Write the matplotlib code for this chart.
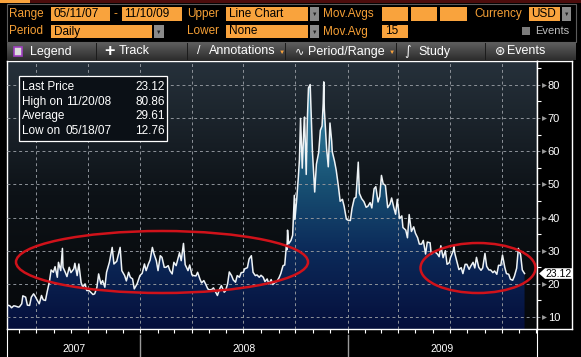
import numpy as np
import pandas as pd
import matplotlib
matplotlib.use('Agg')
import matplotlib.pyplot as plt
import matplotlib.dates as mdates
from matplotlib.patches import Rectangle, Ellipse, Polygon
from matplotlib.colors import LinearSegmentedColormap

# VIX closes, roughly two samples a week
dates = [
    '2007-05-11', '2007-05-15', '2007-05-18', '2007-05-22', '2007-05-25', '2007-05-30',
    '2007-06-01', '2007-06-05', '2007-06-07', '2007-06-12', '2007-06-15', '2007-06-19',
    '2007-06-22', '2007-06-26', '2007-06-29', '2007-07-03', '2007-07-06', '2007-07-10',
    '2007-07-13', '2007-07-17', '2007-07-20', '2007-07-24', '2007-07-27', '2007-07-31',
    '2007-08-03', '2007-08-07', '2007-08-09', '2007-08-13', '2007-08-16', '2007-08-17',
    '2007-08-21', '2007-08-24', '2007-08-28', '2007-08-31', '2007-09-05', '2007-09-07',
    '2007-09-11', '2007-09-14', '2007-09-18', '2007-09-21', '2007-09-25', '2007-09-28',
    '2007-10-02', '2007-10-05', '2007-10-09', '2007-10-12', '2007-10-16', '2007-10-19',
    '2007-10-23', '2007-10-26', '2007-10-30', '2007-11-02', '2007-11-07', '2007-11-12',
    '2007-11-15', '2007-11-20', '2007-11-26', '2007-11-29', '2007-12-04', '2007-12-07',
    '2007-12-11', '2007-12-14', '2007-12-18', '2007-12-21', '2007-12-26', '2007-12-31',
    '2008-01-04', '2008-01-08', '2008-01-11', '2008-01-15', '2008-01-18', '2008-01-22',
    '2008-01-25', '2008-01-29', '2008-02-01', '2008-02-05', '2008-02-08', '2008-02-12',
    '2008-02-15', '2008-02-19', '2008-02-22', '2008-02-26', '2008-02-29', '2008-03-04',
    '2008-03-07', '2008-03-10', '2008-03-13', '2008-03-17', '2008-03-20', '2008-03-25',
    '2008-03-28', '2008-04-01', '2008-04-04', '2008-04-08', '2008-04-11', '2008-04-15',
    '2008-04-18', '2008-04-22', '2008-04-25', '2008-04-29', '2008-05-02', '2008-05-06',
    '2008-05-09', '2008-05-13', '2008-05-16', '2008-05-20', '2008-05-23', '2008-05-28',
    '2008-05-30', '2008-06-03', '2008-06-06', '2008-06-10', '2008-06-13', '2008-06-17',
    '2008-06-20', '2008-06-24', '2008-06-27', '2008-07-01', '2008-07-03', '2008-07-08',
    '2008-07-11', '2008-07-15', '2008-07-18', '2008-07-22', '2008-07-25', '2008-07-29',
    '2008-08-01', '2008-08-05', '2008-08-08', '2008-08-12', '2008-08-15', '2008-08-19',
    '2008-08-22', '2008-08-26', '2008-08-29', '2008-09-02', '2008-09-05', '2008-09-09',
    '2008-09-12', '2008-09-15', '2008-09-16', '2008-09-17', '2008-09-19', '2008-09-23',
    '2008-09-26', '2008-09-29', '2008-09-30', '2008-10-03', '2008-10-06', '2008-10-08',
    '2008-10-10', '2008-10-13', '2008-10-16', '2008-10-17', '2008-10-20', '2008-10-22',
    '2008-10-24', '2008-10-27', '2008-10-29', '2008-10-31', '2008-11-04', '2008-11-07',
    '2008-11-11', '2008-11-14', '2008-11-17', '2008-11-19', '2008-11-20', '2008-11-21',
    '2008-11-25', '2008-11-28', '2008-12-01', '2008-12-04', '2008-12-05', '2008-12-09',
    '2008-12-12', '2008-12-16', '2008-12-19', '2008-12-23', '2008-12-26', '2008-12-30',
    '2009-01-02', '2009-01-06', '2009-01-09', '2009-01-13', '2009-01-16', '2009-01-20',
    '2009-01-22', '2009-01-26', '2009-01-30', '2009-02-03', '2009-02-06', '2009-02-10',
    '2009-02-13', '2009-02-17', '2009-02-20', '2009-02-24', '2009-02-27', '2009-03-02',
    '2009-03-05', '2009-03-09', '2009-03-13', '2009-03-17', '2009-03-20', '2009-03-24',
    '2009-03-27', '2009-03-30', '2009-04-03', '2009-04-07', '2009-04-09', '2009-04-14',
    '2009-04-17', '2009-04-20', '2009-04-24', '2009-04-28', '2009-05-01', '2009-05-05',
    '2009-05-08', '2009-05-12', '2009-05-15', '2009-05-19', '2009-05-22', '2009-05-27',
    '2009-05-29', '2009-06-02', '2009-06-05', '2009-06-09', '2009-06-12', '2009-06-15',
    '2009-06-19', '2009-06-23', '2009-06-26', '2009-06-30', '2009-07-02', '2009-07-07',
    '2009-07-08', '2009-07-10', '2009-07-14', '2009-07-17', '2009-07-21', '2009-07-24',
    '2009-07-28', '2009-07-31', '2009-08-04', '2009-08-07', '2009-08-11', '2009-08-14',
    '2009-08-17', '2009-08-21', '2009-08-25', '2009-08-28', '2009-09-01', '2009-09-04',
    '2009-09-08', '2009-09-11', '2009-09-15', '2009-09-18', '2009-09-22', '2009-09-25',
    '2009-09-29', '2009-10-02', '2009-10-06', '2009-10-09', '2009-10-13', '2009-10-16',
    '2009-10-20', '2009-10-23', '2009-10-27', '2009-10-30', '2009-11-03', '2009-11-06',
    '2009-11-10',
]
vix = [
    13.6, 13.4, 12.8, 13.4, 13.3, 13.0,
    13.1, 14.0, 16.4, 16.0, 13.6, 13.5,
    16.0, 17.0, 16.2, 14.9, 14.0, 16.5,
    15.2, 15.0, 17.6, 20.7, 24.2, 23.5,
    25.2, 22.0, 26.5, 24.0, 30.7, 25.0,
    23.5, 22.2, 25.0, 23.4, 24.5, 26.2,
    22.5, 26.0, 20.4, 19.0, 20.0, 18.0,
    18.0, 17.5, 16.8, 17.0, 19.0, 23.0,
    20.0, 21.0, 19.0, 23.5, 26.5, 31.0,
    26.0, 26.8, 31.0, 24.0, 22.5, 20.9,
    23.5, 22.0, 21.5, 18.5, 20.0, 22.5,
    23.2, 26.0, 24.0, 26.0, 27.2, 31.0,
    29.0, 27.0, 24.0, 28.5, 28.0, 25.0,
    25.0, 25.5, 24.0, 23.0, 26.5, 25.5,
    27.5, 29.4, 27.0, 32.2, 25.8, 24.0,
    25.7, 22.7, 22.5, 22.4, 23.5, 21.5,
    20.3, 21.0, 20.0, 18.5, 18.2, 18.3,
    18.8, 17.5, 16.5, 18.5, 19.5, 17.5,
    17.8, 20.0, 23.6, 22.5, 21.2, 20.5,
    22.5, 22.0, 23.4, 23.5, 24.5, 24.9,
    27.5, 28.5, 23.5, 22.5, 22.7, 22.0,
    22.6, 22.0, 20.7, 21.5, 20.0, 21.3,
    19.8, 20.5, 20.7, 21.9, 23.1, 25.5,
    25.7, 31.7, 30.3, 36.2, 32.1, 33.1,
    34.7, 46.7, 39.4, 45.1, 52.0, 57.5,
    69.9, 54.9, 67.6, 70.3, 53.0, 69.7,
    79.1, 80.1, 70.0, 59.9, 47.7, 56.1,
    59.6, 66.3, 67.6, 74.3, 80.9, 72.7,
    60.9, 55.3, 68.5, 63.0, 59.9, 57.0,
    54.3, 49.3, 44.9, 45.5, 43.4, 39.5,
    39.2, 39.1, 42.8, 45.8, 46.1, 56.7,
    47.3, 45.7, 44.8, 43.1, 43.4, 44.5,
    42.9, 48.7, 49.3, 44.7, 46.4, 52.7,
    50.2, 49.7, 43.0, 44.0, 45.9, 42.9,
    41.0, 45.5, 39.7, 40.5, 37.0, 36.2,
    33.9, 40.9, 35.8, 37.2, 35.3, 33.9,
    32.0, 32.0, 33.1, 29.0, 32.6, 32.4,
    28.9, 29.7, 29.6, 29.0, 28.2, 31.5,
    27.9, 30.0, 25.9, 26.4, 27.9, 30.0,
    31.3, 29.0, 26.3, 24.3, 24.9, 23.1,
    25.9, 25.9, 24.4, 25.4, 26.5, 24.8,
    28.0, 25.0, 24.1, 24.8, 29.2, 25.3,
    24.2, 24.2, 23.4, 23.9, 22.9, 25.6,
    25.6, 28.7, 25.0, 23.1, 22.9, 21.4,
    21.1, 22.3, 24.7, 30.7, 28.8, 24.2,
    23.12,
]

# legend box values
last_price = 23.12
high_date, high_value = '11/20/08', 80.86
average = 29.61
low_date, low_value = '05/18/07', 12.76

y_ticks = [10, 20, 30, 40, 50, 60, 70, 80]
year_labels = ['2007', '2008', '2009']

W, H = 581, 357
ORANGE = '#f9a33d'
ORANGE_TXT = '#f6a036'


def rect(fig, x0, y0, x1, y1, fc, ec='none', lw=0.8, z=1):
    # rectangle given in screenshot pixels (origin top-left)
    fig.add_artist(Rectangle((x0 / W, 1 - y1 / H), (x1 - x0) / W, (y1 - y0) / H,
                             transform=fig.transFigure, facecolor=fc, edgecolor=ec,
                             lw=lw, zorder=z))


def txt(fig, x, y, s, color='white', size=8.5, ha='left', **kw):
    fig.text(x / W, 1 - y / H, s, color=color, fontsize=size, ha=ha, va='center', **kw)


def dropdown(fig, x0, y0, x1, y1):
    rect(fig, x0, y0, x1, y1, '#8a8a8a')
    txt(fig, (x0 + x1) / 2, (y0 + y1) / 2 + 0.5, '▼', color='#202020', size=4, ha='center')


def main():
    plt.rcParams['font.family'] = ['Liberation Sans', 'DejaVu Sans']
    fig = plt.figure(figsize=(W / 100, H / 100), dpi=100, facecolor='black')

    x = pd.to_datetime(dates)
    y = np.array(vix)
    xlim = mdates.date2num(pd.to_datetime(['2007-05-10', '2009-12-02']))
    ylim = (6.4, 87.2)

    # --- top control panel ---
    rect(fig, 0, 0, W, 3, '#4d0c0c')
    rect(fig, 0, 0, 30, 3, ORANGE)
    rect(fig, 7, 4, 576, 42, 'black', ec='#5c5c5c')
    r1, r2 = 14, 31.5
    txt(fig, 9, r1, 'Range', ORANGE_TXT)
    rect(fig, 51, 7, 110, 21, ORANGE)
    txt(fig, 54, r1, '05/11/07', 'black')
    txt(fig, 113, r1, '-', ORANGE_TXT)
    rect(fig, 122, 7, 182, 21, ORANGE)
    txt(fig, 124, r1, '11/10/09', 'black')
    txt(fig, 187, r1, 'Upper', ORANGE_TXT)
    rect(fig, 226, 7, 308, 21, ORANGE)
    txt(fig, 229, r1, 'Line Chart', 'black')
    dropdown(fig, 310, 7, 319, 21)
    txt(fig, 323, r1, 'Mov.Avgs', ORANGE_TXT)
    for a, b in [(382, 408), (411, 437), (440, 467)]:
        rect(fig, a, 7, b, 21, ORANGE)
    txt(fig, 474, r1, 'Currency', ORANGE_TXT)
    rect(fig, 529, 7, 560, 21, ORANGE)
    txt(fig, 531, r1, 'USD', 'black')
    dropdown(fig, 562, 7, 571, 21)

    txt(fig, 9, r2, 'Period', ORANGE_TXT)
    rect(fig, 51, 25, 152, 38, ORANGE)
    txt(fig, 54, r2, 'Daily', 'black')
    dropdown(fig, 154, 25, 164, 38)
    txt(fig, 187, r2, 'Lower', ORANGE_TXT)
    rect(fig, 226, 25, 308, 38, ORANGE)
    txt(fig, 229, r2, 'None', 'black')
    dropdown(fig, 310, 25, 319, 38)
    txt(fig, 323, r2, 'Mov.Avg', ORANGE_TXT)
    rect(fig, 382, 25, 408, 38, ORANGE)
    txt(fig, 385, r2, '15', 'black')
    rect(fig, 522, 27, 530, 35, '#7c7c7c')
    txt(fig, 535, r2, 'Events', '#bdbdbd', size=8)

    # --- toolbar ---
    tb = fig.add_axes([7 / W, 1 - 60 / H, 569 / W, 17 / H])
    tb.imshow(np.linspace(0, 1, 20).reshape(-1, 1), aspect='auto',
              cmap=LinearSegmentedColormap.from_list('tb', ['#5c5c5c', '#2e2e2e']),
              extent=[0, 1, 0, 1])
    tb.set_xlim(0, 1)
    tb.set_ylim(0, 1)
    tb.axis('off')
    for sx in [96, 187, 285, 396, 485]:
        rect(fig, sx, 43, sx + 1, 60, '#1c1c1c')
    tr = 51.5
    rect(fig, 14, 47, 22, 56, '#dcdcdc', ec='#a040c0', lw=1.2)
    txt(fig, 30, tr, 'Legend', size=9)
    txt(fig, 104, tr, '+', size=13, weight='bold')
    txt(fig, 119, tr, 'Track', size=9)
    txt(fig, 197, tr, '/', size=9)
    txt(fig, 209, tr, 'Annotations', size=9)
    txt(fig, 279, tr + 1, '▼', ORANGE, size=4.5)
    txt(fig, 295, tr, '∿', size=8, family=['DejaVu Sans'])
    txt(fig, 308, tr, 'Period/Range', size=9)
    txt(fig, 389, tr + 1, '▼', ORANGE, size=4.5)
    txt(fig, 404, tr, '∫', size=9, family=['DejaVu Sans'])
    txt(fig, 418, tr, 'Study', size=9)
    txt(fig, 495, tr, '⊛', size=9, family=['DejaVu Sans'])
    txt(fig, 507, tr, 'Events', size=9)

    # --- bottom year strip (added first so main axis ticks sit on top) ---
    axb = fig.add_axes([7 / W, 0, 530 / W, 28 / H], facecolor='black')
    axb.set_xlim(xlim)
    axb.set_ylim(0, 1)
    axb.set_xticks([])
    axb.set_yticks([])
    for s in ['top', 'bottom']:
        axb.spines[s].set_visible(False)
    for s in ['left', 'right']:
        axb.spines[s].set_color('white')
    bounds = [xlim[0]] + list(mdates.date2num(pd.to_datetime(['2008-01-01', '2009-01-01']))) + [xlim[1]]
    for i, lab in enumerate(year_labels):
        axb.text((bounds[i] + bounds[i + 1]) / 2, 0.3, lab, color='white', fontsize=7.5,
                 ha='center', va='center')
    for b in bounds[1:-1]:
        axb.axvline(b, ymin=0, ymax=0.78, color='#9a9a9a', lw=1)

    # --- main chart ---
    ax = fig.add_axes([7 / W, 1 - 329 / H, 530 / W, 268 / H])
    bg = LinearSegmentedColormap.from_list('bg', ['#06080a', '#0d1217', '#26313b'])
    ax.imshow(np.linspace(0, 1, 256).reshape(-1, 1), aspect='auto', cmap=bg, origin='lower',
              extent=[0, 1, 0, 1], transform=ax.transAxes, zorder=0)

    fill_cmap = LinearSegmentedColormap.from_list(
        'fill', [(0, '#050f3c'), (0.3, '#0c2b5a'), (0.55, '#185274'), (1, '#4296b6')])
    grad = ax.imshow(np.linspace(0, 1, 256).reshape(-1, 1), aspect='auto', cmap=fill_cmap,
                     origin='lower', extent=[xlim[0], xlim[1], ylim[0], ylim[1]], zorder=1)
    poly = ax.fill_between(x, y, ylim[0], facecolor='none', edgecolor='none')
    grad.set_clip_path(poly.get_paths()[0], transform=ax.transData)

    ax.plot(x, y, color='#eef3f6', lw=1.1, zorder=3)

    ax.set_xlim(xlim)
    ax.set_ylim(ylim)
    ax.xaxis.set_major_locator(mdates.MonthLocator(bymonth=[1, 4, 7, 10]))
    ax.xaxis.set_minor_locator(mdates.MonthLocator())
    ax.set_yticks(y_ticks)
    ax.grid(which='major', color='#8e939a', lw=0.7, linestyle=(0, (3, 3)))
    ax.set_axisbelow(False)
    ax.tick_params(axis='x', which='both', direction='out', length=3, width=0.8,
                   color='white', labelbottom=False)
    ax.tick_params(axis='y', left=False, labelleft=False)
    for s in ax.spines.values():
        s.set_color('white')
        s.set_linewidth(1)

    # --- right price axis ---
    axr = fig.add_axes([537 / W, 1 - 329 / H, 35 / W, 268 / H], facecolor='black')
    axr.set_xlim(0, 1)
    axr.set_ylim(ylim)
    axr.yaxis.tick_right()
    axr.set_yticks(y_ticks)
    axr.set_yticks(np.arange(15, 90, 10), minor=True)
    axr.set_xticks([])
    axr.tick_params(axis='y', which='major', right=False, left=False, labelright=True,
                    labelleft=False, labelcolor='white', labelsize=8, pad=-21)
    axr.tick_params(axis='y', which='minor', left=True, right=False, direction='in',
                    length=3, color='white', width=0.8)
    for s in axr.spines.values():
        s.set_color('white')
        s.set_linewidth(1)
    axr.hlines(y_ticks, 0, 0.17, colors='#8e939a', lw=0.7, linestyles=(0, (3, 3)))
    axr.plot([0.19] * len(y_ticks), y_ticks, '>', color='#9a9a9a', ms=3.5, mec='none')
    # last price tag
    tag = Polygon([[0.06, last_price], [0.23, last_price + 1.6], [1.0, last_price + 1.6],
                   [1.0, last_price - 1.6], [0.23, last_price - 1.6]],
                  closed=True, facecolor='white', edgecolor='none', zorder=4, clip_on=False)
    axr.add_patch(tag)
    axr.text(0.62, last_price, f'{last_price:.2f}', color='black', fontsize=7.5,
             ha='center', va='center', zorder=5)

    # --- legend box ---
    rect(fig, 19, 76, 167, 141, '#0b1016', ec='white', lw=0.9)
    rows = [('Last Price', '', last_price), ('High on', high_date, high_value),
            ('Average', '', average), ('Low on', low_date, low_value)]
    for i, (name, d, v) in enumerate(rows):
        yy = 87 + i * 14.7
        txt(fig, 22, yy, name, size=8.5, zorder=2)
        if d:
            txt(fig, 66, yy, d, size=8.5, zorder=2)
        txt(fig, 165, yy, f'{v:.2f}', size=8.5, ha='right', zorder=2)

    # --- red ellipses ---
    for cx, cy, w, h in [(162, 262, 292, 62), (478, 268, 115, 50)]:
        fig.add_artist(Ellipse((cx / W, 1 - cy / H), w / W, h / H, transform=fig.transFigure,
                               facecolor='none', edgecolor='#d0121a', lw=1.8, zorder=2))

    plt.savefig('out.png', dpi=100, facecolor='black')


if __name__ == '__main__':
    main()
